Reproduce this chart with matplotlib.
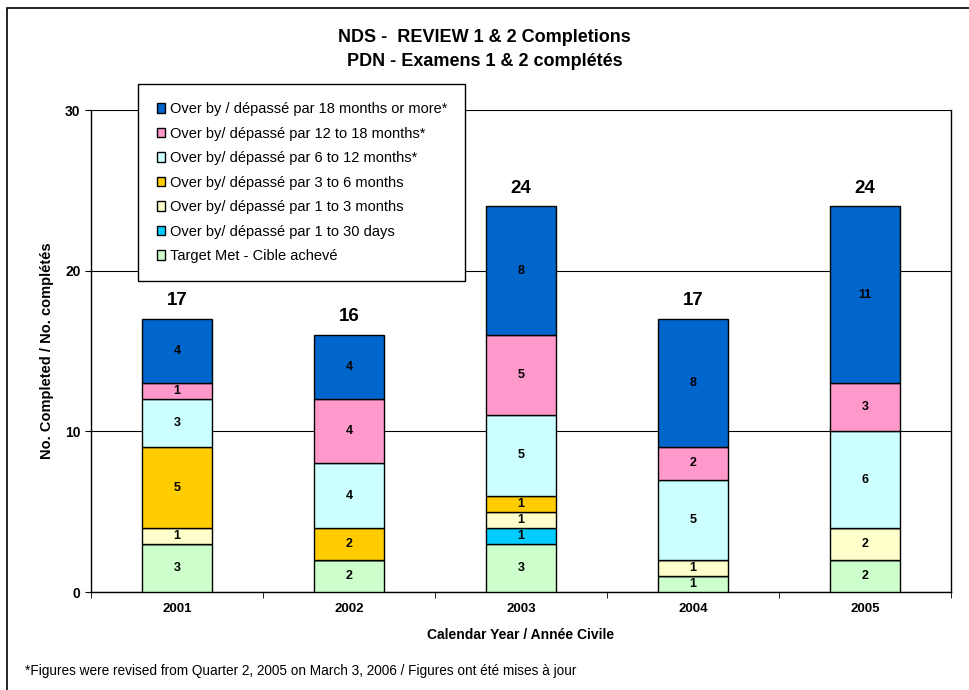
import numpy as np
import matplotlib.pyplot as plt
from matplotlib.patches import Rectangle

plt.rcParams['font.family'] = ['Liberation Sans', 'DejaVu Sans']

years = ['2001', '2002', '2003', '2004', '2005']

# stacked from bottom to top
series_names = [
    'Target Met - Cible achevé',
    'Over by/ dépassé par 1 to 30 days',
    'Over by/ dépassé par 1 to 3 months',
    'Over by/ dépassé par 3 to 6 months',
    'Over by/ dépassé par 6 to 12 months*',
    'Over by/ dépassé par 12 to 18 months*',
    'Over by / dépassé par 18 months or more*',
]
target_met = [3, 2, 3, 1, 2]
over_1_30_days = [0, 0, 1, 0, 0]
over_1_3_months = [1, 0, 1, 1, 2]
over_3_6_months = [5, 2, 1, 0, 0]
over_6_12_months = [3, 4, 5, 5, 6]
over_12_18_months = [1, 4, 5, 2, 3]
over_18_plus = [4, 4, 8, 8, 11]

series_values = [target_met, over_1_30_days, over_1_3_months, over_3_6_months,
                 over_6_12_months, over_12_18_months, over_18_plus]
colors = ['#CCFFCC', '#00CCFF', '#FFFFCC', '#FFCC00', '#CCFFFF', '#FF99CC', '#0066CC']

fig = plt.figure(figsize=(9.69, 6.9), dpi=100)
ax = fig.add_axes([91 / 969, 98 / 690, 860 / 969, 482 / 690])

x = np.arange(len(years))
bottom = np.zeros(len(years))
handles = []
for name, vals, col in zip(series_names, series_values, colors):
    vals = np.array(vals, dtype=float)
    bars = ax.bar(x, vals, bottom=bottom, width=0.41, color=col,
                  edgecolor='black', linewidth=1, label=name, zorder=3)
    handles.append(bars)
    for xi, v, b in zip(x, vals, bottom):
        if v > 0:
            ax.text(xi, b + v / 2, f'{int(v)}', ha='center', va='center',
                    fontsize=9, fontweight='bold', zorder=4)
    bottom += vals

for xi, tot in zip(x, bottom):
    ax.text(xi, tot + 0.6, f'{int(tot)}', ha='center', va='bottom',
            fontsize=13.5, fontweight='bold')

ax.set_xlim(-0.5, len(years) - 0.5)
ax.set_ylim(0, 30)
ax.set_yticks([0, 10, 20, 30])
ax.set_xticks(x)
ax.set_xticklabels(years, fontsize=9.5, fontweight='bold')
ax.set_xticks(np.arange(-0.5, len(years)), minor=True)
ax.tick_params(axis='x', which='major', length=0, pad=8)
ax.tick_params(axis='x', which='minor', length=4, direction='out')
ax.tick_params(axis='y', length=4, direction='out', labelsize=10)
for lbl in ax.get_yticklabels():
    lbl.set_fontweight('bold')
ax.yaxis.grid(True, color='black', linewidth=0.8, zorder=0)
for sp in ax.spines.values():
    sp.set_linewidth(1)
ax.spines['top'].set_visible(False)

ax.set_ylabel('No. Completed / No. complétés', fontsize=10.5, fontweight='bold', labelpad=8)
ax.set_xlabel('Calendar Year / Année Civile', fontsize=10, fontweight='bold', labelpad=9)

leg = ax.legend(handles[::-1], series_names[::-1], loc='upper left',
                bbox_to_anchor=(0.055, 1.054), borderaxespad=0, fontsize=10.5,
                frameon=True, fancybox=False, edgecolor='black', framealpha=1,
                handlelength=0.6, handleheight=0.6, handletextpad=0.3,
                labelspacing=0.72, borderpad=1.25)
leg.get_frame().set_linewidth(1)
leg.set_zorder(5)

fig.text(0.5, 1 - 38 / 690, 'NDS -  REVIEW 1 & 2 Completions', ha='center', va='center',
         fontsize=13, fontweight='bold')
fig.text(0.5, 1 - 62 / 690, 'PDN - Examens 1 & 2 complétés', ha='center', va='center',
         fontsize=13, fontweight='bold')
fig.text(25 / 969, 1 - 671 / 690,
         '*Figures were revised from Quarter 2, 2005 on March 3, 2006 / Figures ont été mises à jour',
         ha='left', va='center', fontsize=9.8)

frame = Rectangle((7 / 969, -0.1), 1.2, (682 / 690) + 0.1, transform=fig.transFigure,
                  fill=False, edgecolor='black', linewidth=1.2)
fig.patches.append(frame)

fig.savefig('out.png', dpi=100)
